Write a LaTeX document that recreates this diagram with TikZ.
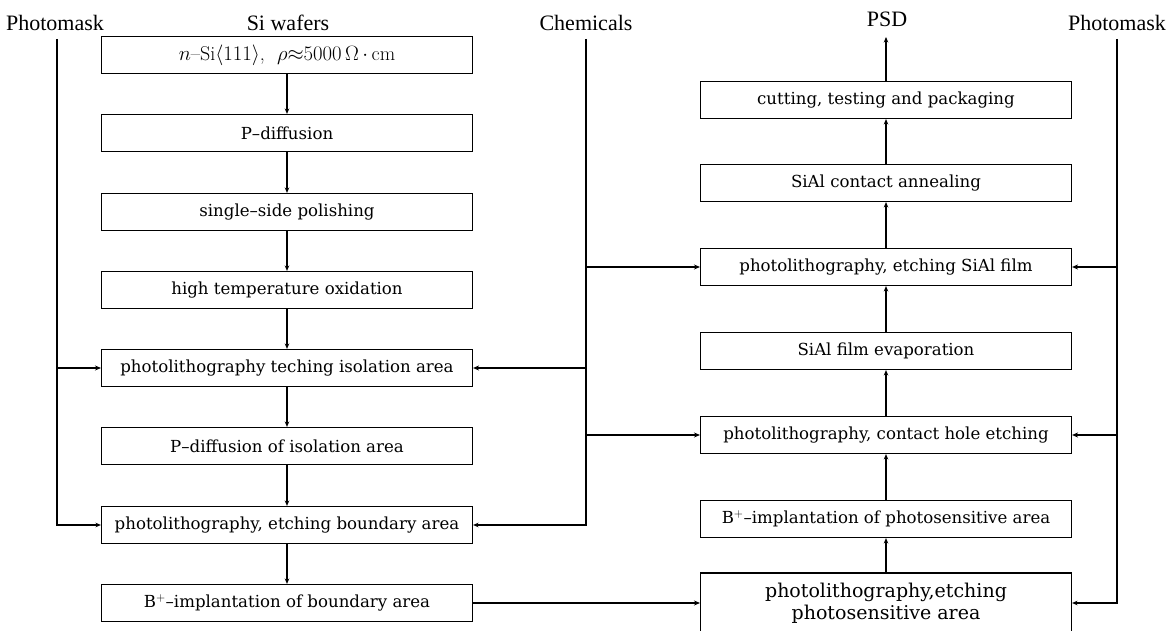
\documentclass[tikz,border=0pt]{standalone}
\usepackage{fontspec}
\setmainfont{Liberation Serif}
\newfontfamily\boxfont{DejaVu Serif}
\newfontfamily\lmfont{Latin Modern Roman}
\usetikzlibrary{arrows.meta}
\begin{document}
\begin{tikzpicture}[x=1pt,y=-1pt]
\tikzset{
 proc/.style={draw, line width=1.1pt, minimum width=371pt, minimum height=37pt, inner sep=0pt, font=\boxfont\fontsize{16.6}{20}\selectfont},
 lab/.style={font=\fontsize{22}{24}\selectfont, inner sep=0pt},
 arr/.style={line width=1.1pt, -{Stealth[length=5.5pt,width=4.5pt]}},
 harr/.style={line width=1.6pt, -{Stealth[length=6pt,width=5pt]}},
}
\useasboundingbox (0,0) rectangle (1171,631);
% labels
\node[lab] (pm1) at (55,23) {Photomask};
\node[lab] (si) at (288,23) {Si wafers};
\node[lab] (chem) at (586,23) {Chemicals};
\node[lab] (psd) at (887,19) {PSD};
\node[lab] (pm2) at (1117,23) {Photomask};
% left column
\node[proc, font=\lmfont\fontsize{20}{22}\selectfont] (L1) at (287,55) {$n$–Si$\langle 111\rangle$,\ \ $\rho{\approx}5000\,\Omega\,{\cdot}\,$cm};
\node[proc] (L2) at (287,133) {P–diffusion};
\node[proc] (L3) at (287,212) {single–side polishing};
\node[proc] (L4) at (287,290) {high temperature oxidation};
\node[proc] (L5) at (287,368) {photolithography teching isolation area};
\node[proc] (L6) at (287,446) {P–diffusion of isolation area};
\node[proc] (L7) at (287,525) {photolithography, etching boundary area};
\node[proc] (L8) at (287,603) {B$^{+}$–implantation of boundary area};
% right column
\node[proc] (R1) at (886,100) {cutting, testing and packaging};
\node[proc] (R2) at (886,183) {SiAl contact annealing};
\node[proc] (R3) at (886,267) {photolithography, etching SiAl film};
\node[proc] (R4) at (886,351) {SiAl film evaporation};
\node[proc] (R5) at (886,435) {photolithography, contact hole etching};
\node[proc] (R6) at (886,519) {B$^{+}$–implantation of photosensitive area};
\node[proc, minimum height=60pt, align=center, font=\boxfont\fontsize{19}{22}\selectfont] (R7) at (886,603) {photolithography,etching\\photosensitive area};
% left column flow
\foreach \a/\b in {L1/L2,L2/L3,L3/L4,L4/L5,L5/L6,L6/L7,L7/L8}
  \draw[arr] (\a.south) -- (\b.north);
% right column flow
\foreach \a/\b in {R7/R6,R6/R5,R5/R4,R4/R3,R3/R2,R2/R1}
  \draw[arr] (\a.north) -- (\b.south);
\coordinate (psdtip) at (886,37);
\draw[arr] (R1.north) -- (psdtip);
\draw[harr] (L8.east) -- (L8.east -| R7.west);
% left photomask
\coordinate (pmt) at (57,39);
\coordinate (pm5) at (pmt |- L5.west);
\draw[arr] (pmt) |- (L7.west);
\draw[harr] (pm5) -- (L5.west);
% chemicals
\coordinate (cht) at (586,39);
\coordinate (ch3) at (cht |- R3.west);
\coordinate (ch5) at (cht |- L5.east);
\coordinate (chR5) at (cht |- R5.west);
\draw[arr] (cht) |- (L7.east);
\draw[harr] (ch3) -- (R3.west);
\draw[harr] (ch5) -- (L5.east);
\draw[harr] (chR5) -- (R5.west);
% right photomask
\coordinate (pmr) at (1117,39);
\coordinate (pr3) at (pmr |- R3.east);
\coordinate (pr5) at (pmr |- R5.east);
\draw[arr] (pmr) |- (R7.east);
\draw[harr] (pr3) -- (R3.east);
\draw[harr] (pr5) -- (R5.east);
\end{tikzpicture}
\end{document}
